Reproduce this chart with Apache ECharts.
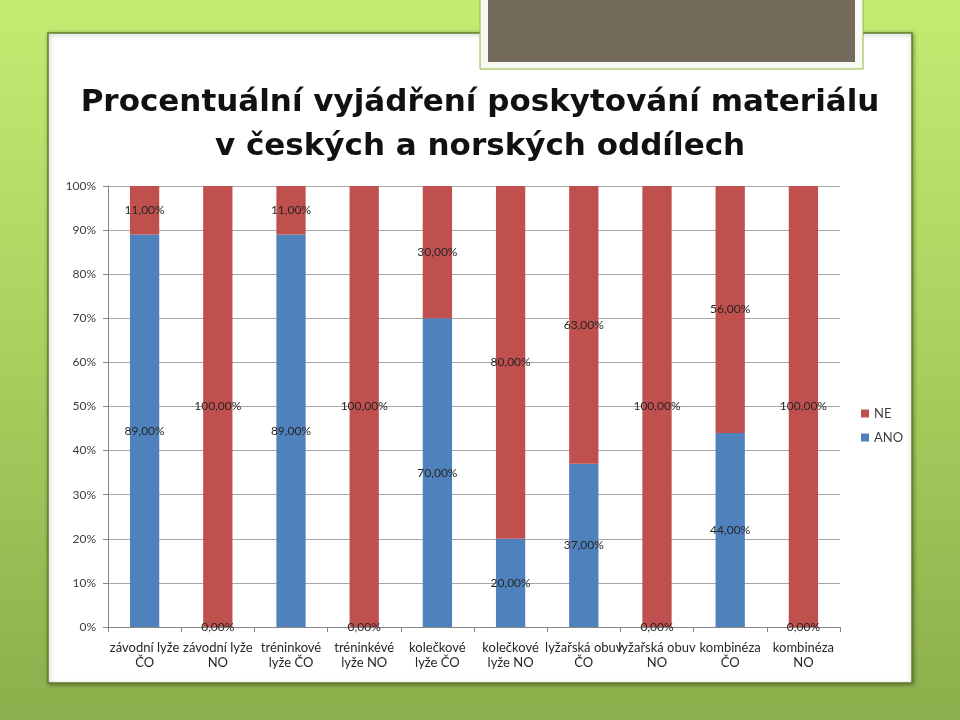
<!DOCTYPE html>
<html>
<head>
<meta charset="utf-8">
<script src="https://cdn.jsdelivr.net/npm/echarts@6/dist/echarts.min.js"></script>
<style>
  html, body { margin: 0; padding: 0; }
  #main { width: 960px; height: 720px; }
</style>
</head>
<body>
<div id="main"></div>
<script>
var categories = ['závodní lyže\nČO', 'závodní lyže\nNO', 'tréninkové\nlyže ČO', 'tréninkévé\nlyže NO',
    'kolečkové\nlyže ČO', 'kolečkové\nlyže NO', 'lyžařská obuv\nČO', 'lyžařská obuv\nNO',
    'kombinéza\nČO', 'kombinéza\nNO'];
var anoValues = [89, 0, 89, 0, 70, 20, 37, 0, 44, 0];
var neValues = [11, 100, 11, 100, 30, 80, 63, 100, 56, 100];
var yTicks = [0, 10, 20, 30, 40, 50, 60, 70, 80, 90, 100];

var titleText = 'Procentuální vyjádření poskytování materiálu\nv českých a norských oddílech';

var myChart = echarts.init(document.getElementById('main'));

function pct(p) {
    return p.value.toFixed(2).replace('.', ',') + '%';
}

var option = {
    animation: false,
    backgroundColor: {
        type: 'linear', x: 0, y: 0, x2: 0, y2: 1,
        colorStops: [
            {offset: 0, color: '#c4ec72'},
            {offset: 0.5, color: '#a9cf5e'},
            {offset: 1, color: '#8cae4c'}
        ]
    },
    graphic: [
        {
            type: 'rect', z: -10,
            shape: {x: 48, y: 33, width: 864, height: 650},
            style: {fill: '#ffffff', stroke: '#5f7d2a', lineWidth: 1.5,
                shadowBlur: 4, shadowColor: 'rgba(0,0,0,0.35)', shadowOffsetX: 1, shadowOffsetY: 1}
        },
        {
            type: 'rect', z: -9,
            shape: {x: 480, y: -2, width: 383, height: 71},
            style: {fill: '#f7f9f2', stroke: '#8db844', lineWidth: 1}
        },
        {
            type: 'rect', z: -8,
            shape: {x: 488, y: 0, width: 367, height: 62},
            style: {fill: '#736a5c'}
        },
        {
            type: 'text', left: 'center', top: 81,
            style: {
                text: titleText,
                fontFamily: 'DejaVu Sans', fontWeight: 'bold', fontSize: 31,
                lineHeight: 44, fill: '#111111', textAlign: 'center'
            }
        }
    ],
    legend: {
        orient: 'vertical',
        left: 856,
        top: 402,
        data: ['NE', 'ANO'],
        icon: 'rect',
        itemWidth: 8,
        itemHeight: 8,
        itemGap: 11,
        textStyle: {fontFamily: 'Lato', fontSize: 13, color: '#404040'}
    },
    grid: {left: 108, right: 120, top: 186, bottom: 93},
    xAxis: {
        type: 'category',
        data: categories,
        axisLine: {lineStyle: {color: '#868686'}},
        axisTick: {show: true, length: 5, lineStyle: {color: '#868686'}},
        axisLabel: {
            interval: 0, margin: 13, hideOverlap: false,
            fontFamily: 'Lato', fontSize: 13, lineHeight: 15, color: '#262626'
        }
    },
    yAxis: {
        type: 'value',
        min: 0, max: 100, interval: 10,
        axisLine: {show: true, lineStyle: {color: '#868686'}},
        axisTick: {show: true, length: 5, lineStyle: {color: '#868686'}},
        splitLine: {lineStyle: {color: '#a6a6a6'}},
        axisLabel: {
            margin: 12, fontFamily: 'Lato', fontSize: 12, color: '#404040',
            formatter: function(v) { return yTicks.indexOf(v) >= 0 ? v + '%' : ''; }
        }
    },
    series: [
        {
            name: 'ANO', type: 'bar', stack: 'a', barWidth: '40%',
            data: anoValues,
            itemStyle: {color: '#4f81bd'},
            label: {show: true, position: 'inside', formatter: pct,
                fontFamily: 'Lato', fontSize: 12, color: '#262626'}
        },
        {
            name: 'NE', type: 'bar', stack: 'a', barWidth: '40%',
            data: neValues,
            itemStyle: {color: '#c0504d'},
            label: {show: true, position: 'inside', formatter: pct,
                fontFamily: 'Lato', fontSize: 12, color: '#262626'}
        }
    ]
};
myChart.setOption(option);
</script>
</body>
</html>
